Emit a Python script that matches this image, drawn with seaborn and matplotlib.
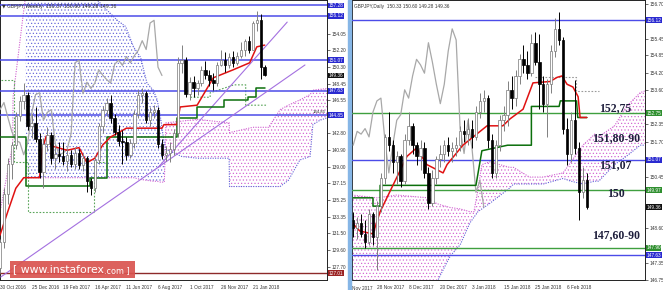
import numpy as np
import matplotlib
matplotlib.use("Agg")
import matplotlib.pyplot as plt
import seaborn as sns
from matplotlib.patches import Rectangle
from matplotlib.transforms import blended_transform_factory

# ================= LEFT PANEL: GBPJPY weekly =================
w_open = [127.6, 130.5, 135.9, 139.4, 141.5, 144.8, 146.5, 147.2, 143.6, 144.0,
          142.2, 138.4, 141.6, 142.6, 140.0, 140.5, 140.2, 139.7, 140.4, 139.3,
          140.6, 139.2, 140.0, 137.4, 136.6, 139.8, 143.6, 145.5, 146.3, 144.6,
          143.0, 142.0, 141.8, 140.4, 141.7, 145.0, 147.2, 147.4, 144.3, 145.2,
          145.5, 141.6, 140.4, 140.6, 141.0, 142.8, 150.8, 151.1, 147.3, 148.6,
          147.9, 148.5, 150.0, 149.4, 148.9, 148.5, 150.6, 151.1, 150.5, 151.5,
          150.8, 151.6, 152.2, 153.3, 152.3, 155.3, 155.6, 150.37]
w_high = [130.9, 136.6, 140.0, 141.8, 145.2, 147.0, 148.5, 147.5, 145.0, 145.8,
          142.8, 142.3, 143.5, 143.0, 141.5, 141.8, 141.8, 141.0, 140.9, 141.3,
          141.0, 140.5, 140.2, 137.8, 140.2, 144.0, 145.9, 146.8, 147.1, 145.0,
          143.8, 143.2, 142.4, 142.2, 145.5, 147.7, 147.9, 147.6, 145.8, 146.0,
          145.8, 142.2, 141.4, 141.8, 143.3, 151.4, 152.8, 151.5, 149.2, 149.3,
          148.8, 150.4, 151.0, 150.0, 149.6, 150.9, 152.2, 152.0, 151.9, 152.1,
          152.0, 153.2, 153.5, 153.8, 155.5, 156.6, 156.3, 150.60]
w_low = [127.0, 129.8, 134.8, 137.6, 141.0, 144.2, 145.6, 143.2, 142.3, 141.8,
         137.8, 136.6, 140.8, 139.4, 138.8, 139.6, 139.2, 138.6, 139.0, 138.8,
         138.8, 138.5, 136.2, 135.8, 136.2, 139.4, 142.8, 144.8, 144.0, 142.6,
         141.4, 139.4, 139.8, 140.0, 141.2, 144.6, 146.2, 144.0, 143.6, 144.6,
         141.2, 139.9, 139.7, 139.6, 140.4, 142.4, 149.6, 146.9, 146.6, 146.9,
         147.2, 148.2, 149.0, 148.2, 147.7, 148.2, 150.4, 149.8, 150.2, 150.3,
         150.6, 151.3, 151.6, 151.9, 152.2, 154.4, 149.0, 149.28]
w_close = [130.5, 135.9, 139.4, 141.5, 144.8, 146.5, 147.2, 143.6, 144.0, 142.2,
           138.4, 141.6, 142.6, 140.0, 140.5, 140.2, 139.7, 140.4, 139.3, 140.6,
           139.2, 140.0, 137.4, 136.6, 139.8, 143.6, 145.5, 146.3, 144.6, 143.0,
           142.0, 141.8, 140.4, 141.7, 145.0, 147.2, 147.4, 144.3, 145.2, 145.5,
           141.6, 140.4, 140.6, 141.0, 142.8, 150.8, 151.1, 147.3, 148.6, 147.9,
           148.5, 150.0, 149.4, 148.9, 148.5, 150.6, 151.1, 150.5, 151.5, 150.8,
           151.6, 152.2, 153.3, 152.3, 155.3, 155.6, 150.3, 149.36]
w_tick_pos = [0, 8, 16, 24, 32, 40, 48, 56, 64]
w_tick_labels = ["30 Oct 2016", "25 Dec 2016", "19 Feb 2017", "16 Apr 2017", "11 Jun 2017",
                 "6 Aug 2017", "1 Oct 2017", "26 Nov 2017", "21 Jan 2018"]
w_yticks = [127.70, 129.60, 131.50, 133.35, 135.25, 137.15, 139.00, 140.90, 142.80,
            146.55, 148.45, 150.30, 152.20, 154.05]

w_tenkan_x = [0, 2, 4, 6, 10, 10.7, 11.7, 13, 17, 20, 22, 24, 26, 28, 32, 41, 41.5,
              44.8, 45.6, 49.9, 54, 59, 63.2, 65, 67]
w_tenkan_y = [131.3, 134.0, 136.6, 137.8, 137.8, 141.0, 142.5, 141.4, 140.9, 141.2,
              139.5, 140.0, 141.5, 142.4, 143.4, 143.4, 143.8, 143.8, 145.8, 146.0,
              149.1, 150.0, 150.8, 152.6, 152.8]
w_kijun_x = [0, 6.5, 6.5, 22.9, 22.9, 27.2, 27.2, 44.9, 44.9, 49.9, 49.9, 56.7, 56.7,
             62.7, 62.7, 64.7, 64.7, 67]
w_kijun_y = [142.4, 142.4, 136.9, 136.9, 137.8, 137.8, 142.4, 142.4, 144.5, 144.5,
             145.8, 145.8, 146.6, 146.6, 146.9, 146.9, 147.9, 147.9]
w_cloud_x = [6.5, 20, 27, 29.7, 31.8, 33.8, 35.6, 37.2, 38.8, 39.8, 40.6, 41.6,
             42.0, 46, 50, 58.0, 58.1, 64, 68, 70.9, 73, 75.9, 78.5, 79.2, 81.0, 83.0]
w_span_a = [137.8, 137.8, 137.8, 137.8, 137.8, 137.8, 137.6, 137.5, 137.4, 137.4,
            137.3, 137.3, 144.0, 144.2, 144.4, 144.0, 142.9, 143.5, 143.5, 145.5,
            146.0, 146.6, 147.2, 147.7, 147.8, 147.9]
w_span_b = [160.0, 160.0, 156.8, 155.6, 154.9, 152.6, 151.4, 148.5, 147.7, 146.6,
            144.7, 141.6, 141.0, 140.2, 140.0, 140.0, 136.8, 136.8, 136.8, 136.8,
            137.5, 139.8, 140.2, 143.8, 144.3, 144.6]
w_pinkline_x = [0.2, 3.2, 3.3, 6.5]
w_pinkline_y = [134.4, 141.5, 146.9, 158.5]
w_gdot1_x = [0.2, 3.5, 3.5, 7.0, 7.0, 23.7, 23.7, 26.7]
w_gdot1_y = [148.8, 148.8, 139.6, 139.6, 133.9, 133.9, 139.6, 139.6]
w_gdot2_x = [48.2, 53.2, 53.2, 59.2, 62.2, 62.2, 67.5]
w_gdot2_y = [146.9, 146.9, 147.4, 148.3, 148.3, 146.0, 146.0]
w_trend1_x = [0.2, 77.2]
w_trend1_y = [126.57, 150.55]
w_trend2_x = [40.1, 72.7]
w_trend2_y = [139.0, 155.4]
w_levels_blue = [157.28, 156.12, 151.07, 147.63, 144.85]
w_level_red = 127.01

# ================= RIGHT PANEL: GBPJPY daily =================
d_first = -6
d_open = [148.9, 148.6, 148.8, 148.4, 148.1, 149.1, 148.3, 149.4, 150.4, 151.9,
          151.6, 151.0, 151.2, 150.3, 151.8, 152.3, 151.6, 151.2, 151.5, 150.6,
          149.5, 150.4, 151.1, 151.3, 151.6, 151.4, 151.5, 151.6, 152.1, 152.0,
          152.2, 151.9, 152.8, 153.2, 153.3, 151.8, 150.6, 151.6, 152.5, 152.7,
          153.6, 153.3, 154.1, 154.7, 154.5, 154.2, 155.3, 154.6, 153.8, 153.1,
          153.8, 155.0, 155.8, 155.4, 152.2, 151.3, 152.5, 151.5, 149.9, 150.33]
d_high = [149.2, 149.0, 149.1, 148.9, 149.3, 149.2, 149.6, 150.6, 152.0, 152.8,
          151.8, 151.4, 151.3, 152.0, 152.8, 152.4, 151.7, 151.8, 151.7, 150.8,
          150.7, 151.2, 151.6, 151.8, 151.9, 151.7, 151.9, 152.3, 152.5, 152.6,
          152.5, 153.0, 153.5, 153.6, 153.4, 152.0, 151.8, 152.7, 153.0, 153.9,
          154.1, 154.3, 154.9, 155.2, 155.0, 155.6, 155.7, 155.6, 154.1, 154.0,
          155.2, 156.2, 156.4, 155.5, 152.6, 152.8, 153.95, 151.7, 150.8, 150.60]
d_low = [148.3, 148.2, 148.3, 147.9, 148.0, 148.0, 147.1, 149.2, 150.2, 151.4,
         150.6, 150.2, 150.1, 150.2, 151.6, 151.3, 150.9, 150.7, 150.4, 149.3,
         149.4, 150.2, 150.8, 151.0, 151.2, 151.0, 151.2, 151.4, 151.7, 151.6,
         151.5, 151.8, 152.6, 152.8, 151.5, 150.4, 150.4, 151.4, 152.1, 152.3,
         152.9, 153.0, 153.8, 154.2, 154.0, 154.1, 154.5, 152.9, 152.8, 151.9,
         153.5, 154.8, 155.2, 152.0, 150.9, 151.0, 151.3, 148.9, 149.7, 149.28]
d_close = [148.6, 148.8, 148.4, 148.1, 149.1, 148.3, 149.4, 150.4, 151.9, 151.6,
           151.0, 151.2, 150.3, 151.8, 152.3, 151.6, 151.2, 151.5, 150.6, 149.5,
           150.4, 151.1, 151.3, 151.6, 151.4, 151.5, 151.6, 152.1, 152.0, 152.2,
           151.9, 152.8, 153.2, 153.3, 151.8, 150.6, 151.6, 152.5, 152.7, 153.6,
           153.3, 154.1, 154.7, 154.5, 154.2, 155.3, 154.6, 153.8, 153.1, 153.8,
           155.0, 155.8, 155.4, 152.2, 151.3, 152.5, 151.5, 149.9, 150.33, 149.36]
d_tick_pos = [0, 8, 16, 24, 32, 40, 48]
d_tick_labels = ["28 Nov 2017", "8 Dec 2017", "20 Dec 2017", "3 Jan 2018", "15 Jan 2018",
                 "25 Jan 2018", "6 Feb 2018"]
d_yticks = [146.75, 147.35, 148.60, 150.45, 151.70, 152.35, 153.60, 154.20, 154.85,
            155.45, 156.70]
d_tenkan_x = [-6.3, -4.3, -1.0, 0.8, 7.6, 10.0, 12.6, 16.7, 17.7, 21.7, 27.8, 31.8,
              33.6, 36.9, 39.4, 43.7, 45.5, 46.7, 48.0, 49.5, 50.8, 51.3, 53.0]
d_tenkan_y = [148.8, 148.5, 148.4, 149.2, 151.2, 151.5, 150.9, 150.6, 150.9, 151.6,
              152.3, 152.3, 152.55, 152.9, 153.85, 153.9, 154.05, 154.1, 153.8, 153.7,
              153.35, 152.6, 152.6]
d_kijun_x = [-6.3, -1.0, -1.0, 0.8, 0.8, 25.0, 26.5, 33.0, 39.0, 39.0, 46.0, 46.3,
             50.4, 50.7, 53.0]
d_kijun_y = [149.7, 149.7, 149.4, 149.4, 150.15, 150.15, 151.4, 151.6, 151.6, 153.0,
             153.0, 153.2, 153.2, 152.6, 152.6]
d_cloud_x = [-6.3, 0, 5, 13, 15, 16, 18.5, 21, 23.5, 24.5, 25.5, 26.5, 28.5, 33.5,
             34.5, 38.5, 42, 47, 49, 52, 55, 56, 60, 63, 66.5, 68.5]
d_span_a = [149.8, 149.7, 149.8, 149.7, 149.5, 149.45, 149.35, 149.3, 149.2, 149.2,
            150.0, 150.9, 151.0, 150.8, 150.8, 150.45, 150.45, 150.6, 151.0, 151.6,
            152.0, 151.9, 152.3, 153.0, 153.5, 153.6]
d_span_b = [146.3, 146.3, 146.3, 146.3, 146.6, 146.9, 147.6, 148.0, 148.8, 149.0,
            149.2, 149.3, 149.5, 150.05, 150.2, 150.2, 150.2, 150.4, 150.3, 150.2,
            150.3, 150.3, 150.9, 151.2, 151.6, 151.6]
d_gdot_x = [40.0, 50.3, 50.3, 56.0]
d_gdot_y = [154.05, 154.05, 153.55, 153.55]
d_levels_blue = [156.12, 151.07, 147.63]
d_levels_green = [152.75, 149.97, 147.90]
d_notes = ["152,75", "151,80-90", "151,07", "150", "147,60-90"]
d_note_y = [152.95, 151.84, 150.89, 149.85, 148.35]
last_price = 149.36

# ================= styling =================
sns.set_style("white")
plt.rcParams["font.family"] = ["Liberation Sans", "DejaVu Sans"]
plt.rcParams["hatch.linewidth"] = 0.45

BLUE_LVL = "#4b4be8"
GREEN_LVL = "#3f9f3f"
BOX_BLUE = "#2a2ad0"
BOX_GREEN = "#2f8f2f"
TENKAN = "#e01212"
KIJUN = "#0b6f0b"
CHIKOU = "#a8a8a8"
PINK = "#d060d0"
CLOUD_BLUE = "#6262d8"
TREND = "#a470e0"
TICK_FS = 3.4

fig = plt.figure(figsize=(6.63, 2.90), dpi=100)
W, H = 663.0, 290.0
axL = fig.add_axes([0 / W, 10 / H, 327 / W, 280 / H])
axR = fig.add_axes([352 / W, 10 / H, 293 / W, 280 / H])

# separator strip between the two charts
fig.patches.append(Rectangle((348 / W, 0), 3 / W, 1, transform=fig.transFigure,
                             color="#86b6e6", zorder=0))


def draw_candles(ax, xs, o, h, l, c, width):
    xs = np.asarray(xs, float)
    o, h, l, c = (np.asarray(v, float) for v in (o, h, l, c))
    up = c >= o
    dn = ~up
    ax.vlines(xs[up], l[up], h[up], color="#808080", lw=0.7, zorder=5)
    ax.vlines(xs[dn], l[dn], h[dn], color="#000000", lw=0.7, zorder=5)
    ax.bar(xs[up], np.maximum(c - o, 0.04)[up], bottom=o[up], width=width,
           color="white", edgecolor="#777777", linewidth=0.5, zorder=6)
    ax.bar(xs[dn], np.maximum(o - c, 0.04)[dn], bottom=c[dn], width=width,
           color="black", edgecolor="black", linewidth=0.5, zorder=6)


def cloud(ax, xs, a, b):
    xs, a, b = (np.asarray(v, float) for v in (xs, a, b))
    ax.fill_between(xs, a, b, where=a >= b, interpolate=True, facecolor="none",
                    edgecolor=PINK, hatch=".....", linewidth=0, zorder=1)
    ax.fill_between(xs, a, b, where=a < b, interpolate=True, facecolor="none",
                    edgecolor=CLOUD_BLUE, hatch=".....", linewidth=0, zorder=1)
    sns.lineplot(x=xs, y=a, ax=ax, color=PINK, lw=0.8, linestyle=(0, (1, 1.2)),
                 estimator=None, sort=False, legend=False, zorder=2)
    sns.lineplot(x=xs, y=b, ax=ax, color=CLOUD_BLUE, lw=0.8, linestyle=(0, (1, 1.2)),
                 estimator=None, sort=False, legend=False, zorder=2)


def line(ax, xs, ys, color, lw, ls="-", z=4):
    sns.lineplot(x=xs, y=ys, ax=ax, color=color, lw=lw, linestyle=ls,
                 estimator=None, sort=False, legend=False, zorder=z)


def price_box(ax, y, txt, fc):
    tr = blended_transform_factory(ax.transAxes, ax.transData)
    ax.text(1.005, y, txt, transform=tr, fontsize=TICK_FS, color="white", va="center",
            ha="left", bbox=dict(boxstyle="square,pad=0.1", fc=fc, ec="none"),
            clip_on=False, zorder=20)


def style_axes(ax, yticks):
    for s in ax.spines.values():
        s.set_visible(True)
        s.set_color("#222222")
        s.set_linewidth(0.7)
    ax.yaxis.tick_right()
    ax.set_yticks(yticks)
    ax.set_yticklabels([f"{v:.2f}" for v in yticks])
    ax.tick_params(axis="y", labelsize=TICK_FS, length=2, width=0.5, pad=1.0,
                   colors="#333333", direction="out")
    ax.tick_params(axis="x", labelsize=TICK_FS, length=2, width=0.5, pad=1.5,
                   colors="#333333", direction="out")
    ax.set_xlabel("")
    ax.set_ylabel("")
    ax.grid(False)


# ---------------- left weekly chart ----------------
wx = np.arange(len(w_close))
cloud(axL, w_cloud_x, w_span_a, w_span_b)
line(axL, w_pinkline_x, w_pinkline_y, PINK, 0.8, (0, (1, 1.2)), 2)
line(axL, w_gdot1_x, w_gdot1_y, "#5aa55a", 0.8, (0, (1.5, 1.5)), 3)
line(axL, w_gdot2_x, w_gdot2_y, "#5aa55a", 0.8, (0, (1.5, 1.5)), 3)
for lv in w_levels_blue:
    axL.axhline(lv, color=BLUE_LVL, lw=1.1, zorder=3)
axL.axhline(w_level_red, color="#8e2a2a", lw=1.0, zorder=3)
line(axL, w_trend1_x, w_trend1_y, TREND, 0.8, "-", 3)
line(axL, w_trend2_x, w_trend2_y, TREND, 0.8, "-", 3)
line(axL, wx[26:] - 26, w_close[26:], CHIKOU, 0.9, "-", 4)
line(axL, w_kijun_x, w_kijun_y, KIJUN, 1.1, "-", 4)
line(axL, w_tenkan_x, w_tenkan_y, TENKAN, 1.1, "-", 4)
draw_candles(axL, wx, w_open, w_high, w_low, w_close, 0.62)
axL.set_xlim(0.2, 0.2 + 327 / 3.96)
axL.set_ylim(157.9 - 280 / 8.84, 157.9)
style_axes(axL, w_yticks)
axL.set_xticks(w_tick_pos)
axL.set_xticklabels(w_tick_labels, ha="left")
for lv in w_levels_blue:
    price_box(axL, lv, f"{lv:.2f}", BOX_BLUE)
price_box(axL, last_price, f"{last_price:.2f}", "#111111")
price_box(axL, w_level_red, f"{w_level_red:.2f}", "#9b2323")
axL.text(0.955, 145.05, "144.85", transform=blended_transform_factory(axL.transAxes, axL.transData),
         fontsize=3.1, color="#333333", ha="left", va="bottom", zorder=8)
axL.text(0.006, 0.985, "\u25BC GBPJPY,Weekly  150.37 150.60 149.28 149.36", transform=axL.transAxes,
         fontsize=TICK_FS, color="#333333", ha="left", va="top", zorder=10,
         family=["DejaVu Sans"])

# ---------------- right daily chart ----------------
dx = np.arange(len(d_close)) + d_first
cloud(axR, d_cloud_x, d_span_a, d_span_b)
line(axR, d_gdot_x, d_gdot_y, "#9a9a9a", 0.8, (0, (1.5, 1.5)), 3)
for lv in d_levels_blue:
    axR.axhline(lv, color=BLUE_LVL, lw=1.0, zorder=3)
for lv in d_levels_green:
    axR.axhline(lv, color=GREEN_LVL, lw=1.0, zorder=3)
line(axR, dx[26:] - 26, d_close[26:], CHIKOU, 0.9, "-", 4)
line(axR, d_kijun_x, d_kijun_y, KIJUN, 1.1, "-", 4)
line(axR, d_tenkan_x, d_tenkan_y, TENKAN, 1.1, "-", 4)
draw_candles(axR, dx, d_open, d_high, d_low, d_close, 0.62)
axR.set_xlim(-6.3, -6.3 + 293 / 3.96)
axR.set_ylim(156.12 - 260 / 27.7, 156.12 + 20 / 27.7)
style_axes(axR, d_yticks)
axR.set_xticks(d_tick_pos)
axR.set_xticklabels(d_tick_labels, ha="left")
axR.text(0.0, -0.022, "Nov 2017", transform=axR.transAxes, fontsize=TICK_FS,
         color="#333333", ha="left", va="top")
for lv in d_levels_blue:
    price_box(axR, lv, f"{lv:.2f}", BOX_BLUE)
for lv in d_levels_green:
    price_box(axR, lv, f"{lv:.2f}", BOX_GREEN)
price_box(axR, last_price, f"{last_price:.2f}", "#111111")
axR.text(0.006, 0.985, "GBPJPY,Daily  150.33 150.60 149.28 149.36", transform=axR.transAxes,
         fontsize=TICK_FS, color="#333333", ha="left", va="top", zorder=10)
trR = blended_transform_factory(axR.transAxes, axR.transData)
for txt, yv in zip(d_notes, d_note_y):
    axR.text(0.9, yv, txt, transform=trR, fontsize=8.5, fontweight="bold",
             family=["Liberation Serif", "DejaVu Serif"], color="#1e1e3c",
             ha="center", va="center", zorder=12)

# ---------------- watermark ----------------
fig.patches.append(Rectangle((10 / W, 12 / H), 125 / W, 17 / H, transform=fig.transFigure,
                             facecolor="#d9534f", edgecolor="none", alpha=0.92, zorder=30))
fig.text(13 / W, 20.5 / H, "[ www.instaforex", fontsize=7.8, color="white",
         ha="left", va="center", zorder=31, family=["DejaVu Sans"])
fig.text(104 / W, 19.5 / H, ".com ]", fontsize=5.8, color="white",
         ha="left", va="center", zorder=31, family=["DejaVu Sans"])

fig.savefig("out.png", dpi=100)
